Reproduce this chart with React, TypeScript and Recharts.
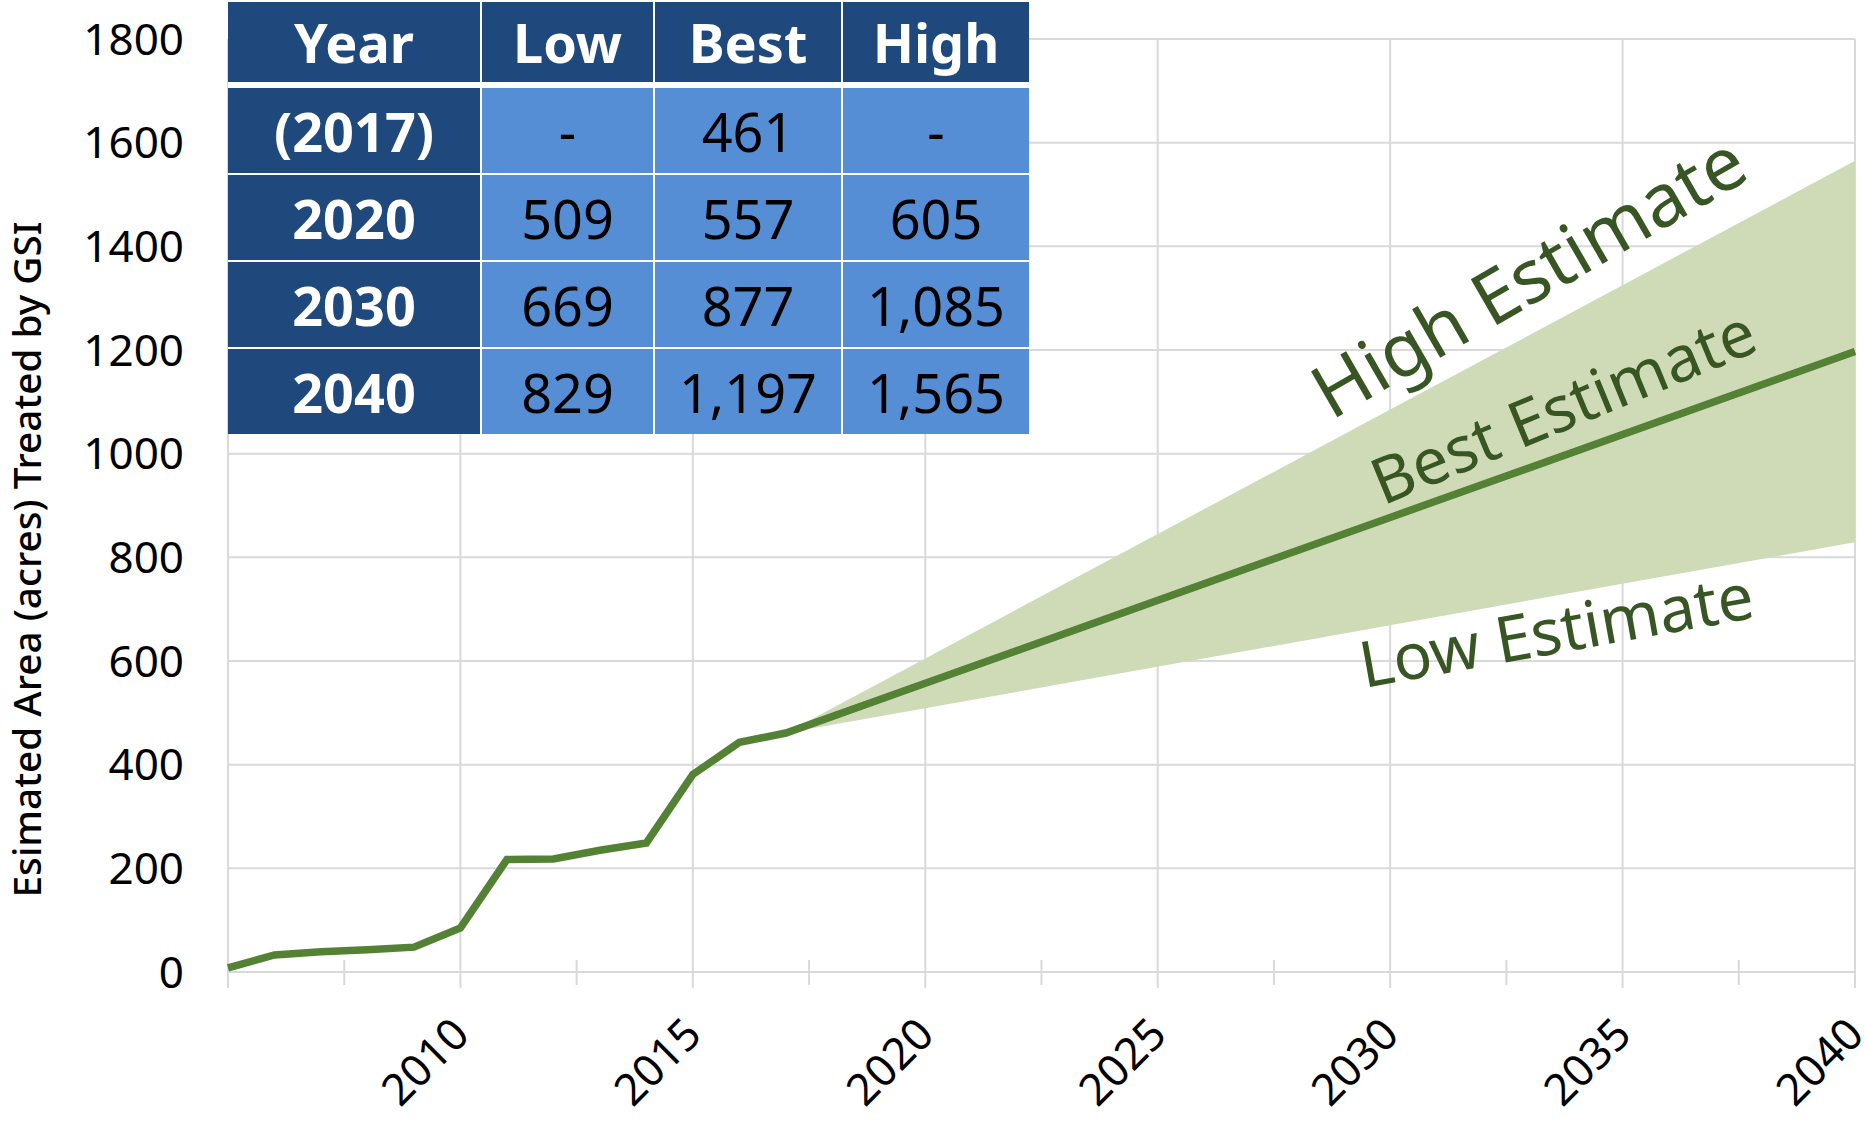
import React from "react";
import { ComposedChart, Line, Area, XAxis, YAxis, CartesianGrid, ReferenceDot } from "recharts";

// observed history (acres treated)
const HIST_YEARS = [2005, 2006, 2007, 2008, 2009, 2010, 2011, 2012, 2013, 2014, 2015, 2016, 2017];
const HIST_VALUES = [8, 33, 39, 43, 48, 85, 217, 218, 235, 249, 381, 443, 461];

// projections (same numbers as the table)
const PROJ_YEARS = [2017, 2020, 2030, 2040];
const PROJ_LOW = [461, 509, 669, 829];
const PROJ_BEST = [461, 557, 877, 1197];
const PROJ_HIGH = [461, 605, 1085, 1565];

const Y_TICKS = [0, 200, 400, 600, 800, 1000, 1200, 1400, 1600, 1800];
const X_TICKS = [2005, 2007.5, 2010, 2012.5, 2015, 2017.5, 2020, 2022.5, 2025, 2027.5, 2030, 2032.5, 2035, 2037.5, 2040];
const GRID_YEARS = [2005, 2010, 2015, 2020, 2025, 2030, 2035, 2040];
const LABEL_YEARS = [2010, 2015, 2020, 2025, 2030, 2035, 2040];

const TABLE_HEAD = ["Year", "Low", "Best", "High"];
const TABLE_YEAR = ["(2017)", "2020", "2030", "2040"];
const TABLE_LOW = ["-", "509", "669", "829"];
const TABLE_BEST = ["461", "557", "877", "1,197"];
const TABLE_HIGH = ["-", "605", "1,085", "1,565"];

const ANNOTATIONS = [
  { text: "High Estimate", year: 2033.26, value: 1298, angle: -30, size: 74 },
  { text: "Best Estimate", year: 2033.91, value: 1050, angle: -22.4, size: 64 },
  { text: "Low Estimate", year: 2033.66, value: 616, angle: -10.2, size: 64 },
];

const FONT = '"Noto Sans", sans-serif';
const GRID = "#d9d9d9";
const GREEN = "#548235";
const DARK_GREEN = "#375623";
const NAVY = "#1f497d";
const LIGHT_BLUE = "#558ed5";

const data = (() => {
  const rows: any[] = HIST_YEARS.map((year, i) => ({ year, best: HIST_VALUES[i] }));
  PROJ_YEARS.forEach((year, i) => {
    const row = rows.find((r) => r.year === year);
    const band = [PROJ_LOW[i], PROJ_HIGH[i]];
    if (row) row.band = band;
    else rows.push({ year, best: PROJ_BEST[i], band });
  });
  return rows;
})();

function XTick({ x, y, payload }: any) {
  const v = payload.value;
  const major = v % 5 === 0;
  const lx = x + 11;
  const ly = y + 65;
  return (
    <g>
      <line x1={x} x2={x} y1={major ? y : y - 12} y2={y + (major ? 16 : 13)} stroke={GRID} strokeWidth={2} />
      {LABEL_YEARS.includes(v) && (
        <text x={lx} y={ly} transform={`rotate(-45 ${lx} ${ly})`} textAnchor="end" fontSize={44} fontFamily={FONT} fill="#000">
          {v}
        </text>
      )}
    </g>
  );
}

function YLabel({ viewBox }: any) {
  const x = viewBox.x + 41;
  const y = viewBox.y + viewBox.height / 2 + 54;
  return (
    <text x={x} y={y} transform={`rotate(-90 ${x} ${y})`} textAnchor="middle" fontSize={38} fontFamily={FONT}
      fontWeight={500} fill="#000" textLength={676} lengthAdjust="spacingAndGlyphs">
      Esimated Area (acres) Treated by GSI
    </text>
  );
}

const annotLabel = (a: (typeof ANNOTATIONS)[number]) => ({ viewBox }: any) => {
  const cx = viewBox.x + (viewBox.width || 0) / 2;
  const cy = viewBox.y + (viewBox.height || 0) / 2;
  return (
    <text x={cx} y={cy} transform={`rotate(${a.angle} ${cx} ${cy})`} textAnchor="middle" fontSize={a.size}
      fontFamily={FONT} fill={DARK_GREEN}>
      {a.text}
    </text>
  );
};

function EstimateTable() {
  const cols = [252, 171, 186, 186];
  const cell = (text: string, i: number, head: boolean, bold: boolean) => (
    <div key={i} style={{
      width: cols[i], height: "100%", background: head || i === 0 ? NAVY : LIGHT_BLUE,
      color: head || i === 0 ? "#fff" : "#000", fontWeight: bold ? 700 : 400,
      display: "flex", alignItems: "center", justifyContent: "center",
    }}>{text}</div>
  );
  const rows = TABLE_YEAR.map((y, r) => [y, TABLE_LOW[r], TABLE_BEST[r], TABLE_HIGH[r]]);
  return (
    <div style={{ position: "absolute", left: 228, top: 2, background: "#fff", fontFamily: FONT, fontSize: 54, lineHeight: 1 }}>
      <div style={{ display: "flex", gap: 2, height: 80, marginBottom: 6 }}>
        {TABLE_HEAD.map((t, i) => cell(t, i, true, true))}
      </div>
      {rows.map((row, r) => (
        <div key={r} style={{ display: "flex", gap: 2, height: 85, marginTop: r ? 2 : 0 }}>
          {row.map((t, i) => cell(t, i, false, i === 0))}
        </div>
      ))}
    </div>
  );
}

export default function App() {
  return (
    <div style={{ position: "absolute", left: 0, top: 0, width: 1865, height: 1124, background: "#fff" }}>
      <ComposedChart width={1865} height={1124} data={data} margin={{ top: 39, right: 10, bottom: 0, left: 0 }}>
        <CartesianGrid stroke={GRID} strokeWidth={2} verticalValues={GRID_YEARS} horizontalValues={Y_TICKS} />
        <XAxis dataKey="year" type="number" domain={[2005, 2040]} ticks={X_TICKS} interval={0} height={152}
          axisLine={false} tickLine={false} tickSize={0} tickMargin={0} tick={<XTick />} />
        <YAxis type="number" domain={[0, 1800]} ticks={Y_TICKS} interval={0} width={228} axisLine={false}
          tickLine={false} tickSize={0} tickMargin={44}
          tick={{ fill: "#000", fontSize: 44, fontFamily: FONT }} label={{ content: YLabel }} />
        <Area type="linear" dataKey="band" stroke="none" fill="#cfdbb7" fillOpacity={1} isAnimationActive={false} />
        <Line type="linear" dataKey="best" stroke={GREEN} strokeWidth={7.5} dot={false} isAnimationActive={false} />
        {ANNOTATIONS.map((a) => (
          <ReferenceDot key={a.text} x={a.year} y={a.value} r={0} fill="none" stroke="none" label={{ content: annotLabel(a) }} />
        ))}
      </ComposedChart>
      <EstimateTable />
    </div>
  );
}
